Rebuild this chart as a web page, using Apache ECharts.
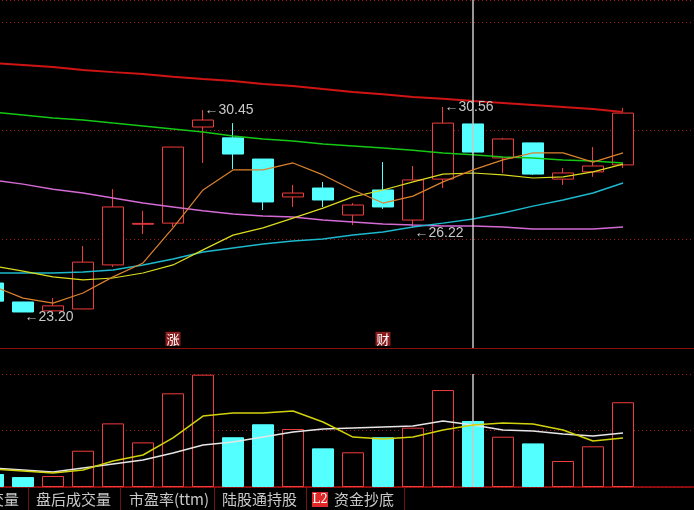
<!DOCTYPE html>
<html>
<head>
<meta charset="utf-8">
<script src="https://cdn.jsdelivr.net/npm/echarts@6/dist/echarts.min.js"></script>
<style>
html,body{margin:0;padding:0;background:#000;}
#chart{width:694px;height:510px;}
</style>
</head>
<body>
<div id="chart"></div>
<script>
// ---- data ----
const days = ['D1','D2','D3','D4','D5','D6','D7','D8','D9','D10','D11','D12','D13','D14','D15','D16','D17','D18','D19','D20','D21','D22','D23','D24'];
const opens  = [24.24,23.56,23.24,23.31,24.89,26.35,26.39,29.84,29.45,28.69,27.33,27.65,26.68,27.58,26.50,27.97,29.95,28.73,29.27,27.97,28.23,28.48];
const closes = [23.59,23.20,23.42,24.99,26.97,26.38,29.12,30.09,28.87,27.15,27.47,27.22,27.04,26.97,27.94,29.98,28.94,29.41,28.15,28.19,28.44,30.34];
const lows   = [23.52,23.20,23.22,23.31,24.82,26.00,26.25,28.55,28.33,26.86,26.97,26.97,26.32,26.90,26.22,27.65,28.90,28.19,28.12,27.76,28.05,28.37];
const highs  = [24.30,23.56,23.70,25.57,27.61,26.83,29.12,30.45,29.98,28.69,27.76,27.87,27.11,28.58,28.44,30.56,29.95,29.45,29.27,28.37,29.12,30.52];

const maOrange = [24.13,23.70,23.52,23.88,24.46,24.96,26.22,27.58,28.30,28.30,28.55,28.12,27.58,27.11,27.36,27.87,28.30,28.66,28.91,28.91,28.58,28.91];
const maYellow = [24.85,24.67,24.46,24.35,24.42,24.60,24.89,25.43,25.96,26.22,26.57,26.93,27.33,27.58,27.87,28.15,28.19,28.12,28.01,28.05,28.23,28.51];
const maCyan   = [24.60,24.60,24.60,24.64,24.71,24.89,25.10,25.35,25.50,25.64,25.75,25.82,25.96,26.07,26.25,26.39,26.54,26.75,27.00,27.22,27.47,27.83];
const maPink   = [27.94,27.79,27.61,27.47,27.29,27.11,26.97,26.83,26.72,26.65,26.61,26.50,26.43,26.36,26.32,26.29,26.29,26.25,26.18,26.18,26.18,26.25];
const maGreen  = [30.38,30.27,30.16,30.09,29.98,29.88,29.77,29.66,29.52,29.41,29.34,29.23,29.16,29.09,29.01,28.91,28.84,28.76,28.73,28.66,28.62,28.55];
const maRed    = [32.14,32.07,31.99,31.89,31.81,31.74,31.64,31.56,31.49,31.38,31.31,31.20,31.10,31.02,30.92,30.85,30.77,30.70,30.63,30.56,30.49,30.38];

const volumes  = [11.5,8.8,9.7,32.1,56.3,39.5,82.9,99.4,44.0,55.5,51.3,34.2,30.7,44.0,52.5,85.8,58.4,44.5,38.6,23.0,36.0,75.0];
const volMA5   = [15.9,14.2,12.4,15.0,23.0,28.3,43.4,62.8,65.5,65.5,67.3,57.5,44.2,42.5,44.2,50.4,54.9,56.6,55.8,50.4,40.7,43.4];
const volMA10  = [16.8,15.0,13.3,16.8,20.4,23.9,30.1,37.2,39.8,44.2,48.7,51.3,52.2,53.1,54.0,58.4,54.9,50.4,49.6,46.9,45.1,47.8];

const extremeIdx  = [7, 15, 1, 14];
const extremeVals = [30.45, 30.56, 23.20, 26.22];
const eventIdx    = [6, 13];
const eventText   = ['涨', '财'];
const crossIdx    = 16;
const tabLabels   = ['成交量','盘后成交量','市盈率(ttm)','陆股通持股','L2','资金抄底'];

// ---- styling ----
const UP = '#f03c3c', DOWN = '#54ffff';
const yMin = 21.9078, yMax = 34.3988;

const kData = opens.map((o, i) => [o, closes[i], lows[i], highs[i]]);
const volData = volumes.map((v, i) => ({
  value: v,
  itemStyle: closes[i] >= opens[i]
    ? { color: '#000', borderColor: UP, borderWidth: 1 }
    : { color: DOWN, borderColor: DOWN, borderWidth: 1 }
}));

const extremeMarks = extremeIdx.map((idx, k) => {
  const low = extremeVals[k] === lows[idx] && extremeVals[k] < 27;
  return {
    coord: [idx, extremeVals[k]],
    symbol: 'rect', symbolSize: [1, 1],
    itemStyle: { color: 'rgba(0,0,0,0)' },
    label: {
      show: true, position: 'right', distance: 1,
      offset: low ? [0, 5] : [0, 0],
      formatter: '←' + extremeVals[k].toFixed(2),
      color: '#c8c8c8', fontSize: 14, fontFamily: 'Liberation Sans, Arial, sans-serif'
    }
  };
});
const eventMarks = eventIdx.map((idx, k) => ({
  coord: [idx, yMin + 0.33],
  symbol: 'rect', symbolSize: [1, 1],
  itemStyle: { color: 'rgba(0,0,0,0)' },
  label: {
    show: true, position: 'inside', formatter: eventText[k],
    color: '#ffffff', backgroundColor: '#8a1c1c', padding: [1, 1, 0, 1],
    fontSize: 13, fontFamily: 'Noto Sans CJK SC'
  }
}));

function maLine(name, data, color, width, xi, yi) {
  return {
    name, type: 'line', data, xAxisIndex: xi, yAxisIndex: yi,
    symbol: 'none', smooth: false, silent: true,
    lineStyle: { color, width }, z: 3
  };
}

const crossLine = {
  symbol: ['none', 'none'], silent: true,
  label: { show: false },
  lineStyle: { color: '#c8c8c8', width: 1.5, type: 'solid' },
  data: [{ xAxis: crossIdx }]
};

const chart = echarts.init(document.getElementById('chart'), null, { renderer: 'canvas' });

const tabFont = '15px "Noto Sans CJK SC", sans-serif';
const tabX = [19, 36, 129, 222, 320, 334];
const sepX = [28, 120, 214, 306, 404];
const graphics = [];
tabLabels.forEach((t, i) => {
  if (t === 'L2') {
    graphics.push({ type: 'rect', shape: { x: 312, y: 492, width: 16, height: 15 }, style: { fill: '#e02828' }, z: 10 });
    graphics.push({ type: 'text', x: tabX[i], y: 499.5, style: { text: t, fill: '#ffffff', font: '12px "DejaVu Serif", serif', textAlign: 'center', textVerticalAlign: 'middle' }, z: 11 });
  } else {
    graphics.push({ type: 'text', x: tabX[i], y: 499, style: { text: t, fill: '#c8c8c8', font: tabFont, textAlign: i === 0 ? 'right' : 'left', textVerticalAlign: 'middle' }, z: 10 });
  }
});
sepX.forEach(x => graphics.push({ type: 'line', shape: { x1: x + 0.5, y1: 488, x2: x + 0.5, y2: 510 }, style: { stroke: '#6a1414', lineWidth: 1 }, z: 10 }));

chart.setOption({
  backgroundColor: '#000000',
  animation: false,
  grid: [
    { left: -22, right: -4, top: 0, height: 348, containLabel: false, outerBoundsMode: 'none' },
    { left: -22, right: -4, top: 374, height: 113, containLabel: false, outerBoundsMode: 'none' }
  ],
  xAxis: [
    { type: 'category', gridIndex: 0, data: days, boundaryGap: true,
      axisLine: { lineStyle: { color: '#8b0e0e', width: 1 } }, axisTick: { show: false }, axisLabel: { show: false }, splitLine: { show: false } },
    { type: 'category', gridIndex: 1, data: days, boundaryGap: true,
      axisLine: { lineStyle: { color: '#b01010', width: 1.5 } }, axisTick: { show: false }, axisLabel: { show: false }, splitLine: { show: false } }
  ],
  yAxis: [
    { type: 'value', gridIndex: 0, min: yMin, max: yMax, scale: true,
      axisLine: { show: false }, axisTick: { show: false }, axisLabel: { show: false }, splitLine: { show: false } },
    { type: 'value', gridIndex: 0, min: 0, max: 3.2, interval: 1,
      axisLine: { show: false }, axisTick: { show: false }, axisLabel: { show: false },
      splitLine: { show: true, lineStyle: { color: '#a01818', type: [1, 3], width: 1 } } },
    { type: 'value', gridIndex: 1, min: 0, max: 100, interval: 50,
      axisLine: { show: false }, axisTick: { show: false }, axisLabel: { show: false },
      splitLine: { show: true, lineStyle: { color: '#a01818', type: [1, 3], width: 1 } } }
  ],
  series: [
    {
      name: 'K', type: 'candlestick', xAxisIndex: 0, yAxisIndex: 0,
      data: kData, barWidth: 22, silent: true,
      itemStyle: { color: '#000000', color0: DOWN, borderColor: UP, borderColor0: DOWN, borderWidth: 1 },
      markPoint: { silent: true, animation: false, data: extremeMarks.concat(eventMarks) }
    },
    maLine('MA250', maRed, '#d01414', 2, 0, 0),
    maLine('MA120', maGreen, '#14c814', 1.5, 0, 0),
    maLine('MA60', maPink, '#d46ad4', 1.5, 0, 0),
    maLine('MA30', maCyan, '#1cb8cc', 1.5, 0, 0),
    maLine('MA10', maYellow, '#dcdc1e', 1.2, 0, 0),
    Object.assign(maLine('MA5', maOrange, '#dc822c', 1.2, 0, 0), { markLine: crossLine, z: 5 }),
    {
      name: 'VOL', type: 'bar', xAxisIndex: 1, yAxisIndex: 2,
      data: volData, barWidth: 22, silent: true
    },
    maLine('VMA10', volMA10, '#e6e6e6', 1.5, 1, 2),
    Object.assign(maLine('VMA5', volMA5, '#d2d20c', 1.5, 1, 2), { markLine: crossLine, z: 5 })
  ],
  graphic: graphics
});
</script>
</body>
</html>
